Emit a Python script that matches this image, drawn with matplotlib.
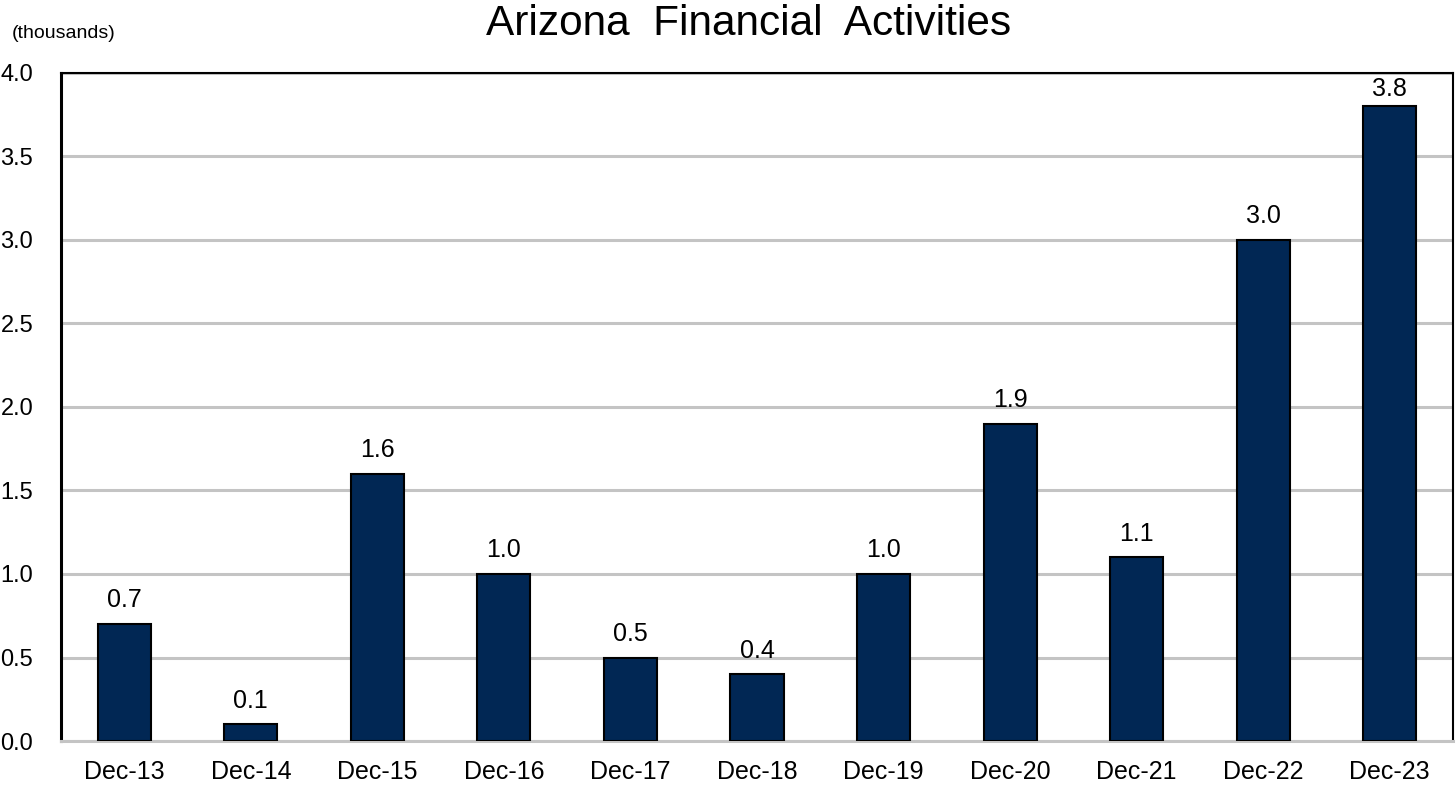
import matplotlib
matplotlib.use("Agg")
import matplotlib.pyplot as plt

categories = ["Dec-13", "Dec-14", "Dec-15", "Dec-16", "Dec-17", "Dec-18",
              "Dec-19", "Dec-20", "Dec-21", "Dec-22", "Dec-23"]
values = [0.7, 0.1, 1.6, 1.0, 0.5, 0.4, 1.0, 1.9, 1.1, 3.0, 3.8]
yticks = [0.0, 0.5, 1.0, 1.5, 2.0, 2.5, 3.0, 3.5, 4.0]

plt.rcParams['font.family'] = ['Liberation Sans', 'DejaVu Sans']

fig = plt.figure(figsize=(14.56, 7.86), dpi=100)
ax = fig.add_axes([61/1456, 1-741/786, (1453-61)/1456, (741-73)/786])

x = list(range(len(categories)))
bars = ax.bar(x, values, width=0.42, color="#012754", edgecolor="black",
              linewidth=1.5, zorder=3)
for xi, v in zip(x, values):
    ax.text(xi, min(v + 0.1, 3.86), f"{v:.1f}", ha="center", va="baseline",
            fontsize=18, zorder=4)

ax.set_xlim(-0.5, len(categories) - 0.5)
ax.set_ylim(0, 4.0)
ax.set_yticks(yticks)
ax.set_yticklabels([f"{t:.1f}" for t in yticks], fontsize=17)
ax.set_xticks(x)
ax.set_xticklabels(categories, fontsize=18)
ax.tick_params(axis='x', length=0, pad=14)
ax.tick_params(axis='y', length=0, pad=20)

ax.yaxis.grid(True, color="#c4c4c4", linewidth=2.2, zorder=1)
ax.set_axisbelow(True)

for s in ['top', 'right']:
    ax.spines[s].set_linewidth(1.5)
    ax.spines[s].set_color('black')
ax.spines['left'].set_linewidth(2.2)
ax.spines['bottom'].set_color('#c4c4c4')
ax.spines['bottom'].set_linewidth(2.2)

fig.text(749/1456, 1-24/786, "Arizona  Financial  Activities", ha="center", va="center", fontsize=30.5)
fig.text(12/1456, 1-34/786, "(thousands)", ha="left", va="center", fontsize=14)

fig.savefig("out.png", dpi=100)
